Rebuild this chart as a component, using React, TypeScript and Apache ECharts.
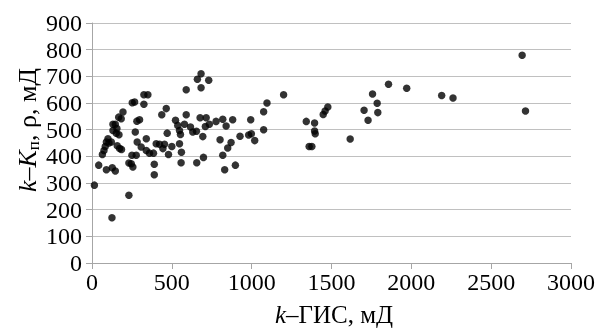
import React, { useEffect, useRef } from "react";
import * as echarts from "echarts";

const xValues: number[] = [
  15, 42, 65, 75, 83, 90, 100, 106, 121, 90, 125, 127, 146, 131, 146, 156, 169, 131, 152, 167,
  183, 194, 158, 173, 185, 231, 231, 246, 250, 256, 277, 252, 267, 271, 281, 298, 325, 350, 325, 283,
  308, 340, 340, 360, 385, 390, 390, 402, 423, 444, 454, 437, 465, 471, 479, 500, 523, 537, 548, 554,
  548, 560, 558, 590, 590, 579, 617, 631, 654, 656, 660, 683, 683, 731, 677, 715, 694, 698, 710, 735,
  777, 802, 819, 840, 819, 831, 850, 871, 881, 898, 927, 981, 998, 994, 1019, 1075, 1075, 1096, 1200, 1342,
  1360, 1377, 1394, 1394, 1398, 1448, 1460, 1477, 1617, 1704, 1729, 1757, 1786, 1790, 1857, 1971, 2190, 2261, 2694, 2715,
];
const yValues: number[] = [
  292, 367, 407, 422, 437, 454, 466, 450, 454, 350, 170, 357, 345, 520, 520, 504, 481, 497, 487, 547,
  541, 566, 440, 429, 426, 254, 375, 372, 404, 360, 404, 601, 604, 491, 532, 537, 631, 631, 595, 454,
  435, 466, 422, 412, 412, 370, 331, 447, 445, 429, 445, 556, 579, 487, 407, 437, 535, 516, 497, 482,
  447, 415, 376, 650, 556, 520, 510, 491, 494, 376, 689, 710, 657, 685, 545, 545, 474, 396, 512, 520,
  531, 462, 539, 514, 404, 350, 431, 452, 537, 367, 475, 480, 485, 537, 459, 500, 567, 600, 631, 531,
  437, 437, 525, 495, 485, 557, 570, 585, 465, 573, 535, 634, 599, 564, 670, 655, 628, 619, 779, 570,
];
const xTicks = { min: 0, max: 3000, interval: 500 };
const yTicks = { min: 0, max: 900, interval: 100 };

const FONT = "Liberation Serif";
const FS = 24;
const TFS = 26;
const XTFS = 25;

export default function App() {
  const ref = useRef<HTMLDivElement>(null);
  useEffect(() => {
    if (!ref.current) return;
    const chart = echarts.init(ref.current, null, { renderer: "svg" });
    const data = xValues.map((x, i) => [x, yValues[i]]);
    chart.setOption({
      animation: false,
      textStyle: { fontFamily: FONT },
      grid: { left: 92, right: 25, top: 23, bottom: 66, containLabel: false },
      xAxis: {
        type: "value",
        min: xTicks.min,
        max: xTicks.max,
        interval: xTicks.interval,
        splitLine: { show: false },
        axisLine: { show: true, lineStyle: { color: "#a6a6a6", width: 1 } },
        axisTick: { show: true, length: 6, lineStyle: { color: "#a6a6a6" } },
        axisLabel: { color: "#000", fontFamily: FONT, fontSize: FS, margin: 7, formatter: (v: number) => String(v) },
      },
      yAxis: {
        type: "value",
        min: yTicks.min,
        max: yTicks.max,
        interval: yTicks.interval,
        splitLine: { show: true, lineStyle: { color: "#c0c0c0", width: 1 } },
        axisLine: { show: true, lineStyle: { color: "#a6a6a6", width: 1 } },
        axisTick: { show: true, length: 6, lineStyle: { color: "#a6a6a6" } },
        axisLabel: { color: "#000", fontFamily: FONT, fontSize: FS, margin: 10, formatter: (v: number) => String(v) },
      },
      graphic: [
        {
          type: "text",
          x: 334,
          y: 314,
          style: {
            align: "center",
            verticalAlign: "middle",
            rich: {
              i: { fontStyle: "italic", fontFamily: FONT, fontSize: XTFS, fill: "#000" },
              n: { fontFamily: FONT, fontSize: XTFS, fill: "#000" },
            },
            text: "{i|k}{n|–ГИС, мД}",
          },
        },
        {
          type: "text",
          x: 27,
          y: 130,
          rotation: Math.PI / 2,
          style: {
            align: "center",
            verticalAlign: "middle",
            rich: {
              i: { fontStyle: "italic", fontFamily: FONT, fontSize: TFS, fill: "#000", lineHeight: 30 },
              n: { fontFamily: FONT, fontSize: TFS, fill: "#000", lineHeight: 30 },
              s: { fontFamily: FONT, fontSize: 17, fill: "#000", verticalAlign: "bottom", lineHeight: 30, padding: [11, 0, 0, 0] },
            },
            text: "{i|k}{n|–}{i|K}{s|п}{n|, ρ, мД}",
          },
        },
      ],
      series: [
        {
          type: "scatter",
          data,
          symbol: "circle",
          symbolSize: 7.5,
          itemStyle: { color: "#000" },
        },
      ],
    });
    return () => chart.dispose();
  }, []);
  return <div ref={ref} style={{ position: "fixed", left: 0, top: 0, width: 598, height: 329 }} />;
}
